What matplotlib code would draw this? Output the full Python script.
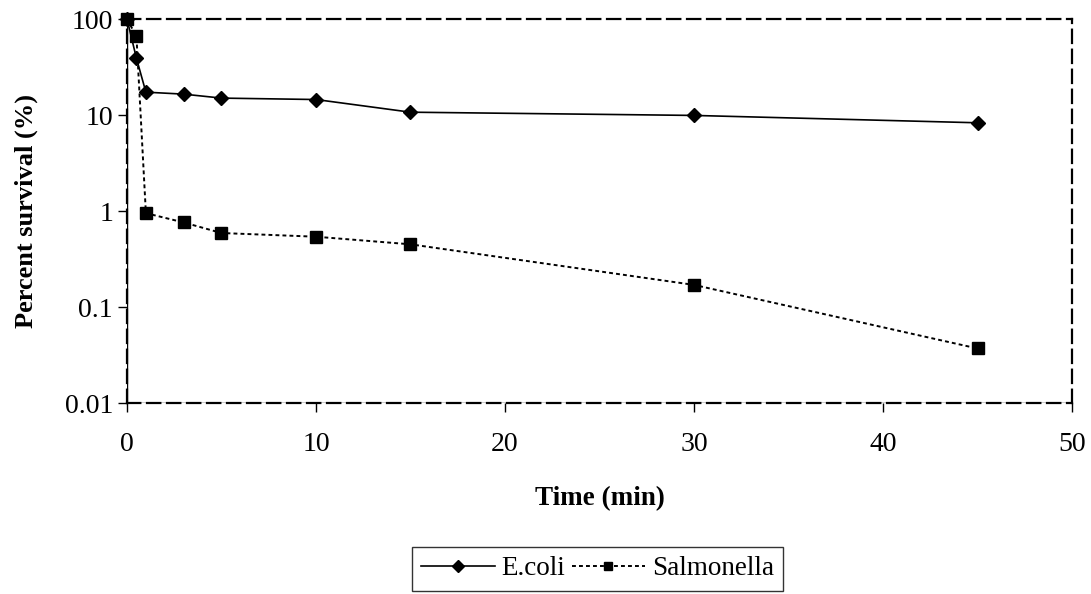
import matplotlib
matplotlib.use("Agg")
import matplotlib.pyplot as plt
from matplotlib.lines import Line2D

#------------------------------------------------------------------------------

""" Data read off the survival chart """
time_min = [0, 0.5, 1, 3, 5, 10, 15, 30, 45]
ecoli = [100, 39, 17.3, 16.5, 15.0, 14.5, 10.7, 9.9, 8.3]
salmonella = [100, 66, 0.95, 0.76, 0.59, 0.54, 0.45, 0.17, 0.037]

x_ticks = [0, 10, 20, 30, 40, 50]
y_ticks = [0.01, 0.1, 1, 10, 100]
y_labels = ["0.01", "0.1", "1", "10", "100"]

#------------------------------------------------------------------------------

plt.rcParams['font.family'] = ['Liberation Serif', 'DejaVu Serif']

dots = (0, (2, 1.6))

fig = plt.figure(figsize=(10.91, 5.94), dpi=100)
ax = fig.add_axes([0.1164, 0.3215, 0.8662, 0.6465])

ax.plot(time_min, ecoli, color="black", lw=1.2, marker="D", ms=7.5,
        label="E.coli", clip_on=False, zorder=4)
ax.plot(time_min, salmonella, color="black", lw=1.4, ls=dots,
        marker="s", ms=8, label="Salmonella", clip_on=False, zorder=4)

ax.set_yscale("log")
ax.set_xlim(0, 50)
ax.set_ylim(0.01, 100)
ax.set_xticks(x_ticks)
ax.set_yticks(y_ticks)
ax.set_yticklabels(y_labels)
ax.minorticks_off()
ax.tick_params(axis="both", labelsize=20, direction="out", length=6.5,
               width=1, color="black")
ax.tick_params(axis="x", pad=14)
ax.tick_params(axis="y", pad=3.5)

# dashed plot-area border, solid axis lines
for s in ax.spines.values():
    s.set_linestyle((0, (6, 3)))
    s.set_linewidth(1.6)
    s.set_color("black")
ax.axvline(0, color="black", lw=1, zorder=3)
ax.axhline(0.01, color="black", lw=1, zorder=3)

ax.set_xlabel("Time (min)", fontsize=19.5, fontweight="bold", labelpad=21)
ax.set_ylabel("Percent survival (%)", fontsize=19, fontweight="bold", labelpad=19)

handles = [
    Line2D([], [], color="black", lw=1.2, marker="D", ms=6),
    Line2D([], [], color="black", lw=1.4, ls=dots, marker="s", ms=6),
]
leg = fig.legend(handles, ["E.coli", "Salmonella"], loc="upper left",
                 bbox_to_anchor=(412 / 1091, 1 - 547 / 594), ncol=2,
                 fontsize=19.5, frameon=True, fancybox=False,
                 handlelength=2.7, columnspacing=0.25, handletextpad=0.25,
                 borderpad=0.35, borderaxespad=0)
leg.get_frame().set_edgecolor("black")
leg.get_frame().set_linewidth(1)

fig.savefig("out.png", dpi=100)
